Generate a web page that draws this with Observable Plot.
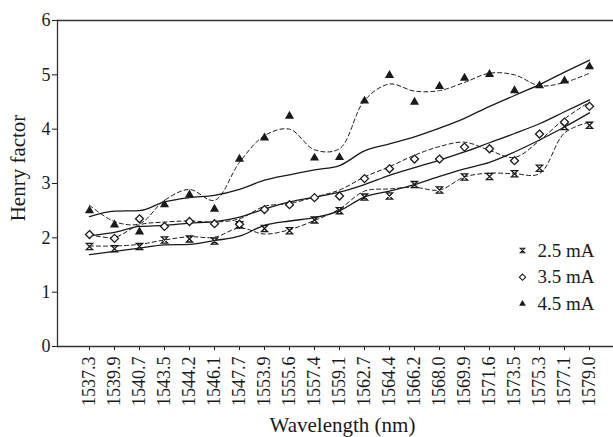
<!DOCTYPE html>
<html>
<head>
<meta charset="utf-8">
<script src="https://cdn.jsdelivr.net/npm/d3@7"></script>
<script src="https://cdn.jsdelivr.net/npm/@observablehq/plot@0.6"></script>
<style>
  html, body { margin: 0; padding: 0; background: #fff; }
</style>
</head>
<body>
<div id="chart"></div>
<script>
const wavelengths = ["1537.3","1539.9","1540.7","1543.5","1544.2","1546.1","1547.7","1553.9","1555.6","1557.4","1559.1","1562.7","1564.4","1566.2","1568.0","1569.9","1571.6","1573.5","1575.3","1577.1","1579.0"];

// measured Henry factor
const h25 = [1.84,1.80,1.84,1.96,1.98,1.94,2.24,2.17,2.13,2.33,2.50,2.75,2.77,2.98,2.88,3.12,3.13,3.18,3.28,4.05,4.07];
const h35 = [2.06,1.99,2.35,2.21,2.30,2.26,2.25,2.52,2.61,2.74,2.77,3.09,3.27,3.45,3.45,3.67,3.64,3.42,3.91,4.13,4.42];
const h45 = [2.50,2.24,2.11,2.61,2.79,2.53,3.45,3.84,4.24,3.47,3.48,4.52,4.99,4.50,4.79,4.94,5.01,4.71,4.80,4.89,5.15];

// dashed smoothed curves
const smooth25 = [1.85,1.85,1.88,1.96,2.02,2.01,2.18,2.07,2.15,2.32,2.53,2.86,2.90,2.93,2.88,3.12,3.19,3.18,3.18,3.93,4.13];
const smooth35 = [2.06,2.01,2.24,2.29,2.31,2.29,2.35,2.58,2.63,2.75,2.88,3.12,3.31,3.52,3.68,3.76,3.61,3.48,3.79,4.19,4.50];
const smooth45 = [2.60,2.30,2.26,2.69,2.89,2.69,3.39,3.88,4.00,3.62,3.64,4.53,4.83,4.70,4.71,4.86,5.03,5.00,4.80,4.86,5.03];

// solid fitted curves
const fit25 = [1.69,1.75,1.81,1.87,1.88,1.95,2.03,2.23,2.31,2.37,2.50,2.75,2.86,2.98,3.13,3.27,3.39,3.58,3.80,4.04,4.30];
const fit35 = [2.04,2.10,2.21,2.23,2.27,2.30,2.38,2.53,2.66,2.75,2.84,2.98,3.15,3.29,3.43,3.58,3.75,3.92,4.10,4.32,4.54];
const fit45 = [2.39,2.49,2.50,2.66,2.74,2.78,2.89,3.06,3.16,3.25,3.33,3.60,3.73,3.86,4.02,4.20,4.42,4.62,4.82,5.05,5.27];

const seriesNames = ["2.5 mA","3.5 mA","4.5 mA"];
const yTicks = [0,1,2,3,4,5,6];
const xTitle = "Wavelength (nm)";
const yTitle = "Henry factor";

const toRows = (arr) => arr.map((v, i) => ({x: wavelengths[i], y: v}));

// hourglass (x with bars) symbol
const hourglass = {
  draw(context, size) {
    const s = Math.sqrt(size / Math.PI);
    context.moveTo(-s, -s);
    context.lineTo(s, -s);
    context.lineTo(-s, s);
    context.lineTo(s, s);
    context.closePath();
  }
};

const ink = "#1a1a1a";
const dash = {stroke: ink, strokeWidth: 1, strokeDasharray: "4,3", curve: "catmull-rom"};
const solid = {stroke: ink, strokeWidth: 1.3, curve: "monotone-x"};

const markerStyles = [
  {symbol: hourglass, fill: "none", stroke: ink, strokeWidth: 1.3, r: 3.1, lr: 2.2},
  {symbol: "diamond2", fill: "white", stroke: ink, strokeWidth: 1.3, r: 3.6, lr: 2.8},
  {symbol: "triangle", fill: ink, stroke: "none", strokeWidth: 0, r: 3.4, lr: 2.5}
];
const seriesData = [h25, h35, h45];

const legendMarks = seriesNames.flatMap((name, i) => {
  const st = markerStyles[i];
  return [
    Plot.dot([name], {frameAnchor: "top-right", dx: -91, dy: 230 + i * 26.7,
      symbol: () => st.symbol, r: st.lr, fill: st.fill, stroke: st.stroke, strokeWidth: 1.1}),
    Plot.text([name], {frameAnchor: "top-right", dx: -76, dy: 230 + i * 26.7,
      text: d => d, textAnchor: "start", lineAnchor: "middle", fontSize: 19, fill: ink})
  ];
});

const chart = Plot.plot({
  width: 613,
  height: 437,
  marginLeft: 57,
  marginRight: 0,
  marginTop: 20,
  marginBottom: 91,
  style: {fontFamily: "Liberation Serif, Times New Roman, serif", fontSize: "18px", color: ink, background: "white"},
  x: {type: "point", domain: wavelengths, range: [70, 607]},
  y: {domain: [0, 6]},
  marks: [
    Plot.axisY({ticks: yTicks, tickSize: 5, tickPadding: 2, tickFormat: d => String(d), label: null, fontSize: 18}),
    Plot.axisX({tickSize: 4, tickPadding: 6, tickRotate: -90, label: null, fontSize: 18}),
    Plot.ruleY([0], {stroke: "#333", strokeWidth: 1.3}),
    Plot.ruleY([6], {stroke: "#333", strokeWidth: 1.3}),
    Plot.frame({anchor: "left", stroke: "#333", strokeWidth: 1.3}),
    Plot.line(toRows(fit25), {x: "x", y: "y", ...solid}),
    Plot.line(toRows(fit35), {x: "x", y: "y", ...solid}),
    Plot.line(toRows(fit45), {x: "x", y: "y", ...solid}),
    Plot.line(toRows(smooth25), {x: "x", y: "y", ...dash}),
    Plot.line(toRows(smooth35), {x: "x", y: "y", ...dash}),
    Plot.line(toRows(smooth45), {x: "x", y: "y", ...dash}),
    ...seriesData.map((arr, i) => {
      const st = markerStyles[i];
      return Plot.dot(toRows(arr), {x: "x", y: "y", symbol: () => st.symbol, r: st.r,
        fill: st.fill, stroke: st.stroke, strokeWidth: st.strokeWidth});
    }),
    ...legendMarks,
    Plot.text([yTitle], {frameAnchor: "left", dx: -39.5, dy: -15.5, rotate: -90, text: d => d,
      fontSize: 21, textAnchor: "middle", lineAnchor: "middle", fill: ink}),
    Plot.text([xTitle], {frameAnchor: "bottom", dx: 7, dy: 79, text: d => d,
      fontSize: 21, textAnchor: "middle", lineAnchor: "middle", fill: ink})
  ]
});
document.getElementById("chart").appendChild(chart);
</script>
</body>
</html>
